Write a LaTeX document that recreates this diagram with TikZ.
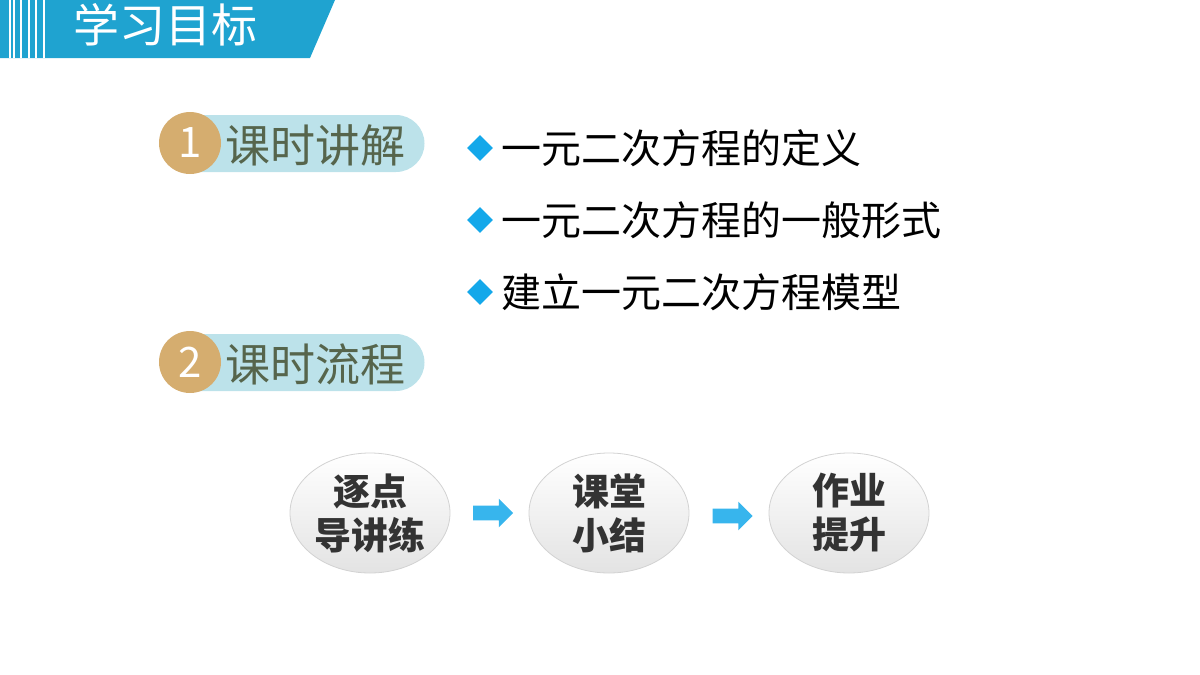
\documentclass[tikz,border=0pt]{standalone}
\usepackage{fontspec}
\setmainfont{Noto Sans CJK SC}
\usetikzlibrary{positioning,calc,shapes.geometric,shapes.arrows}
\definecolor{headblue}{HTML}{1FA3D0}
\definecolor{pillblue}{HTML}{BCE2EA}
\definecolor{badgegold}{HTML}{D5AD6F}
\definecolor{pilltext}{HTML}{56654C}
\definecolor{dotblue}{HTML}{14A8EA}
\tikzset{
    % badge circle with number
    badge/.style={
           circle,
           fill=badgegold,
           minimum size=31,
           inner sep=0pt,
           text=white,
           font=\fontsize{21}{21}\selectfont},
    % title text on the pill
    pilltitle/.style={
           anchor=west,
           text=pilltext,
           font=\fontsize{22.5}{22.5}\selectfont},
    % diamond bullets
    bullet/.style={
           diamond,
           fill=dotblue,
           minimum size=13,
           inner sep=0pt},
    item/.style={
           anchor=west,
           font=\fontsize{20}{20}\selectfont},
    % process ellipses
    stage/.style={
           ellipse,
           draw=gray!35,
           top color=white,
           bottom color=gray!22,
           minimum width=80,
           minimum height=60,
           inner sep=0pt,
           align=center,
           text=black!80,
           font=\bfseries\fontsize{18.5}{22}\selectfont},
    flow/.style={
           single arrow,
           fill=dotblue!85,
           minimum height=20,
           minimum width=14,
           single arrow head extend=3.5,
           inner xsep=0pt,
           inner ysep=3.5pt}
}
\begin{document}
\begin{tikzpicture}[x=0.5pt,y=-0.5pt]
 \useasboundingbox (0,0) rectangle (1200,675);
 %header
    \fill[headblue] (0,0) -- (335,0) -- (310,58) -- (0,58) -- cycle;
    \foreach \sx in {9,13,20,28,35,43}
        \fill[white] (\sx,0) rectangle ++(1.6,58);
    \node[anchor=west,text=white,font=\fontsize{23}{23}\selectfont] (head) at (66,25) {学习目标};
 %section titles
    \fill[pillblue] (190,115) -- (396,115) arc[start angle=-90,end angle=90,radius=28.5] -- (190,172) -- cycle;
    \node[badge] (b1) at (190,143) {1};
    \node[pilltitle] (t1) at (218,145) {课时讲解};
    \fill[pillblue] (190,334) -- (396,334) arc[start angle=-90,end angle=90,radius=28.5] -- (190,391) -- cycle;
    \node[badge] (b2) at (190,362) {2};
    \node[pilltitle] (t2) at (218,364) {课时流程};
 %bullets
    \node[bullet] (d1) at (480,148) {};
    \node[item] (i1) at (494,148) {一元二次方程的定义};
    \node[bullet] (d2) at (480,220) {};
    \node[item] (i2) at (494,220) {一元二次方程的一般形式};
    \node[bullet] (d3) at (480,292) {};
    \node[item] (i3) at (494,292) {建立一元二次方程模型};
 %process
    \node[stage] (s1) at (370,513) {逐点\\导讲练};
    \node[stage] (s2) at (609,513) {课堂\\小结};
    \node[stage] (s3) at (849,513) {作业\\提升};
    \node[flow] (a1) at ($(s1.east)!0.5!(s2.west)$) {};
    \node[flow] (a2) at ($(s2.east)!0.5!(s3.west)+(0,3)$) {};
\end{tikzpicture}
\end{document}
